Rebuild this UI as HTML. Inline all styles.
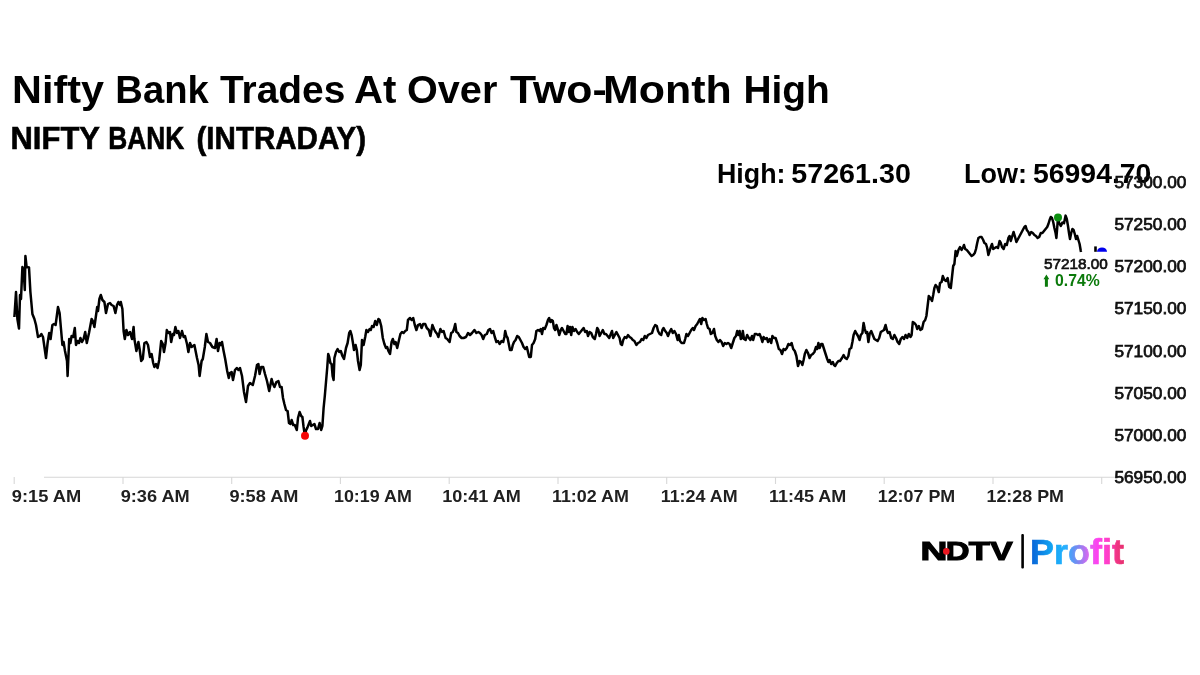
<!DOCTYPE html>
<html lang="en"><head><meta charset="utf-8"><title>Nifty Bank Trades At Over Two-Month High</title>
<style>
html,body{margin:0;padding:0;background:#fff;}
body{width:1200px;height:675px;overflow:hidden;font-family:"Liberation Sans",sans-serif;}
svg{display:block;}
text{font-family:"Liberation Sans",sans-serif;font-weight:bold;}
.n{font-weight:normal;}
</style></head><body>
<svg width="1200" height="675" viewBox="0 0 1200 675">
<defs><linearGradient id="pg" gradientUnits="userSpaceOnUse" x1="1032" y1="0" x2="1123" y2="0">
<stop offset="0" stop-color="#0a66d8"/><stop offset="0.2" stop-color="#10a0f0"/><stop offset="0.36" stop-color="#25b2ff"/><stop offset="0.5" stop-color="#7a88f0"/><stop offset="0.62" stop-color="#d868f0"/><stop offset="0.72" stop-color="#ff40f0"/><stop offset="0.85" stop-color="#ff3fc0"/><stop offset="0.93" stop-color="#f03585"/><stop offset="1" stop-color="#e83070"/>
</linearGradient></defs>
<rect width="1200" height="675" fill="#fff"/>
<path d="M44 477.3H1128" stroke="#d6d6d6" stroke-width="1.1" fill="none"/>
<path d="M14.2 477v7M123.0 477v7M231.7 477v7M340.4 477v7M449.2 477v7M558.0 477v7M666.7 477v7M775.5 477v7M884.2 477v7M993.0 477v7M1101.7 477v7" stroke="#d8d8d8" stroke-width="1.1" fill="none"/>
<path d="M14.4 317 L16 292 L17.4 319 L19 328.6 L20 295 L21 299 L22.4 267 L23.6 270 L24.8 290 L25.4 256 L26.6 267 L29 267.4 L30.4 292 L32.4 314 L34.4 319 L36 325 L38 337 L40 336 L41.4 334 L43 337 L46 358 L47.6 343 L49.2 333 L50.6 339 L52.4 325 L54 324 L55.6 325 L58 307 L59.6 313 L61 329 L62.4 345 L63.6 342 L65 351 L67 361 L67.6 376 L69.2 339 L70.4 343 L71.6 336 L73.2 337 L74.8 328 L76 345 L77.6 341 L79 343 L80.4 338 L82 342 L83.6 339 L85.2 332 L86.8 343 L89 333 L91.6 319 L92.8 321 L94.4 327 L97.2 307 L98 311 L99.4 299 L100.8 295 L102.4 300 L104.4 302 L106 313 L108 304 L110 303 L111.6 305 L113.6 306 L115.4 313 L117 305 L118.4 302 L120 305 L120.8 302 L122.4 309 L123.6 331 L124.8 339 L126.4 330 L128 335 L130 332 L132 339 L133.6 327 L134.4 339 L136.4 351 L138.4 342 L139.6 349 L141.2 361 L142.8 359 L144.4 343 L146.4 342 L148 345 L150 357 L151.6 354 L153.2 363 L154.4 367 L156 364 L157.6 368 L159.2 360 L161.2 341 L162.8 344 L164 352 L165.6 343 L166.8 330 L168.4 333 L170 332 L171.2 342 L172.8 334 L174 335 L175.4 327 L177 333 L178.4 331 L180 338 L182 331 L183.6 337 L185 336 L187 344 L188.4 352 L190 343 L191.6 347 L194.4 345 L197 358 L198.6 365 L199.6 376 L201.6 361 L202.8 359 L204.8 347 L206.4 334 L208 342 L210 343 L212.4 347 L215 348 L216.6 339 L218 351 L219.6 343 L220.8 345 L222 342 L223.6 351 L225.2 359 L227.2 371 L228.8 378 L230 373 L231.6 372 L233 380 L235 370 L236.8 368 L238.4 370 L240 368 L242 376 L244 392 L246 402 L248 386 L250 383 L252.8 385 L255 376 L257 365 L258.4 364 L259.6 374 L261.2 367 L263.2 367 L265 374 L267 381 L269.2 391 L271.6 379 L273 384 L274.4 387 L276.4 382 L278.4 381 L280 387 L281.6 387 L283 398 L284.4 404 L286 410 L287.6 411 L289 423 L290.4 424 L291.6 420 L293.2 425 L294.8 425 L296.8 430 L298 418 L299.6 412 L301.2 416 L302.4 417 L303.6 427 L304.4 432.4 L305 435.8 L306 430.4 L307.4 427.6 L308.8 424 L310 421 L311.2 426 L312.8 425 L314.4 424 L316 429 L318 429 L319.6 423 L321.2 430 L322.4 426 L323.6 408 L324.8 396 L326 382 L327.2 368 L328.2 354 L329.2 357 L330.4 363 L331.6 364 L332.6 376 L333.6 380 L334.4 358 L336 352 L337.6 349 L339.2 352 L340.8 351 L342.4 356 L344 359 L346 348 L347.6 343 L349.2 333 L350.4 331 L351.6 335 L352.8 342 L354 350 L355.6 345 L356.8 350 L358 361 L359.6 370 L360.8 365 L362 340 L363.6 345 L365.2 337 L366.4 330 L368 332 L369.6 329 L370.8 330 L372 326 L373.6 327 L375.2 321 L376.8 325 L378.4 319 L379.6 320 L381.2 326 L382.8 338 L384.4 344 L386 348 L387.2 347 L388.4 351 L390 354 L391.6 342 L392.8 339 L394.4 344 L395.6 342 L397.2 348 L399 340 L400.4 334 L402 332 L403.6 333 L405.2 331 L406.8 330 L408 320 L410 318 L411.6 320 L413.2 318 L414.8 325 L416.4 330 L418 325 L420 324 L421.6 328 L423.2 324 L425.2 324 L426.8 328 L428.8 330 L430.4 336 L432.4 325 L434 329 L435.6 332 L437.2 334 L438.4 337 L440.4 329 L442 332 L443.6 331 L445.6 338 L447.2 339 L449.6 342 L451.2 333 L452.8 332 L454 329 L455.2 324 L456.4 332 L458 333 L459.6 336 L461.6 338 L463.6 338 L466 337 L468 333 L470 335 L472 333 L474.4 330 L476.4 333 L478.4 332 L480 333 L481.6 335 L483.2 339 L484.8 335 L486.8 334 L488.4 330 L490 329 L491.6 333 L493.2 331 L494.8 337 L496.4 342 L498 341 L499.6 344 L501.6 341 L503.2 342 L504.4 337 L505.2 331 L506.4 336 L507.6 338 L508.8 344 L510 350 L511.6 350 L512.8 345 L514 342 L515.6 340 L517.2 336 L518.8 337 L520.4 340 L522 343 L523.6 347 L525.2 349 L526.8 347 L528 352 L529.2 357 L530.8 357 L532 345 L533.6 343 L535.2 339 L536.4 331 L538 330 L539.6 331 L540.8 329 L542 334 L543.2 328 L544.8 329 L546.4 325 L548 320 L549.2 318 L550.4 322 L551.6 320 L552.8 321 L554 328 L555.2 330 L556.4 325 L558 330 L559.2 335 L560.8 330 L562 328 L563.6 331 L565.2 334 L566.4 334 L567.6 326 L568.8 332 L570 327 L571.2 335 L572.4 327 L574 331 L575.6 329 L577.2 332 L578.8 334 L580.4 332 L582 330 L583.6 328 L585.2 332 L586.8 331 L588 336 L589.6 332 L591.2 333 L592.8 337 L594.8 339 L596 334 L597.2 328 L598.4 330 L599.6 336 L601.2 333 L602.8 330 L604.4 334 L606 334 L607.6 336 L609.2 338 L610.8 334 L612 331 L613.2 338 L614.8 335 L616.4 332 L618 335 L619.6 338 L620.8 344 L622 345 L623.2 340 L624.8 337 L626.4 338 L628 335 L629.6 337 L631.2 338 L632.8 340 L634.4 341 L636.4 345 L638 343 L640 342 L641.6 339 L643.2 340 L644.8 336 L646.4 338 L648 335 L650 334 L652 333 L653.6 328 L655.2 325 L656.8 326 L658 331 L659.6 334 L661.2 335 L662.4 330 L663.6 328 L665.2 331 L666.8 333 L668 336 L669.6 332 L671.2 329 L672.8 333 L674.4 331 L676 334 L677.6 340 L678.8 335 L680 341 L681.6 343 L684 343 L685.2 339 L686.4 334 L688 336 L689.6 333 L691.2 330 L692.8 328 L694 330 L695.6 326 L697.2 324 L698.8 321 L700 319 L701.2 324 L702.4 318 L704 320 L705.6 319 L706.8 324 L708 328 L709.6 329 L710.8 334 L712.4 333 L714 329 L715.2 336 L716.8 340 L718.4 342 L720 340 L721.6 342 L723.2 346 L724.8 343 L726.4 344 L728 343 L729.6 344 L731.2 348 L732.8 343 L734.4 338 L736 336 L737.2 331 L738.4 335 L739.6 331 L740.8 339 L742 338 L742.8 331 L744 339 L745.6 340 L747.2 335 L748.8 338 L750.4 340 L752 336 L753.2 340 L754.8 334 L756.4 334 L758 335 L759.6 334 L761.2 338 L762.4 342 L763.6 337 L765.2 339 L766.8 338 L768 342 L769.6 339 L771.2 343 L772.4 336 L774 338 L775.6 338 L777.2 343 L778.8 349 L780.4 350 L782 354 L783.6 349 L785.2 350 L786.8 348 L788.4 344 L790 345 L791.6 343 L793.2 349 L794.8 351 L796.4 356 L798 366 L799.6 361 L801.2 362 L802.4 365 L803.6 360 L804.8 354 L806.4 350 L808 353 L809.6 358 L811.2 355 L812.8 354 L814.4 352 L816 347 L817.2 349 L818.4 343 L819.6 348 L821.2 344 L822.4 344 L824 349 L825.6 354 L827.2 359 L828.4 362 L829.6 360 L831.2 364 L832.8 362 L834 365 L835.2 366 L836.8 363 L838.4 361 L840 361 L842 358 L843.6 355 L845.2 358 L846.8 359 L848.4 356 L849.6 349 L851.2 348 L852.4 342 L853.6 335 L855.2 331 L856.8 334 L858 336 L859.6 340 L860.8 335 L862.4 333 L863.6 323 L864.8 329 L866 333 L867.2 332 L868.4 342 L869.6 334 L871.2 331 L872.8 335 L874.4 339 L876 340 L877.6 341 L879.2 338 L880.8 332 L882.4 331 L884 330 L885.6 325 L886.8 330 L888 333 L889.6 332 L891.2 338 L892.8 339 L894.4 335 L896 338 L897.6 342 L899.2 344 L900.8 339 L902.4 337 L904 339 L905.6 335 L907.2 338 L908.8 334 L910.4 337 L911.6 335 L912.8 322 L914.4 323 L916 325 L917.2 329 L918.8 326 L920.4 330 L922 329 L923.6 322 L925.2 320 L926.4 316 L927.6 306 L928.8 296 L930.4 298 L932 301 L933.2 295 L934.4 288 L935.6 285 L937.2 287 L938.8 292 L940 283 L941.6 282 L942.8 276 L944.4 280 L946 281 L947.6 278 L949.2 287 L950.8 288 L952 277 L953.2 266 L954.4 264 L955.6 251 L956.8 256 L958.4 250 L960 247 L961.6 250 L963.2 247 L964 245 L965.2 249 L966.8 250 L968.4 252 L970 254 L971.6 256 L973.2 255 L974.8 253 L976 249 L977.2 243 L978.4 238 L980 237 L981.6 237 L983.2 240 L984.4 243 L986 244 L987.2 248 L988.4 255 L989.6 251 L990.8 247 L992 244 L993.2 249 L994.8 248 L996.4 247 L998 248 L999.6 241 L1000.8 243 L1002 247 L1003.6 249 L1005.2 244 L1006.8 245 L1008.4 238 L1009.6 236 L1010.8 241 L1012 237 L1013.6 232 L1014.8 236 L1016.4 242 L1018 239 L1019.6 236 L1021.2 233 L1022.8 230 L1024.4 227 L1025.6 226 L1026.8 230 L1028.4 232 L1029.6 235 L1031.2 232 L1032.8 233 L1034.4 235 L1036 236 L1037.6 238 L1039.2 237 L1040.8 233 L1042.4 233 L1044 231 L1045.6 229 L1047.2 227 L1048.4 224 L1049.6 220 L1050.8 217 L1052 218 L1053.2 222 L1054.4 228 L1055.6 233 L1056.4 238 L1057.2 228 L1058 217.6 L1059.2 223 L1060.8 226 L1062.4 222.6 L1064 223.2 L1065.6 215.6 L1066.8 219 L1068 226 L1069 233 L1070 239 L1071.2 233 L1072.4 229 L1073.6 230 L1074.8 234 L1076 239 L1077.2 236 L1078.4 240 L1079.6 244 L1080.8 251 L1081 252" fill="none" stroke="#000" stroke-width="2.5" stroke-linejoin="round" stroke-linecap="butt"/>
<circle cx="305" cy="435.8" r="4" fill="#f50505"/>
<circle cx="1058" cy="217.4" r="4" fill="#0c8f10"/>
<path d="M1096.9 251.8A5.2 5.2 0 0 1 1107.1 251.8Z" fill="#0000ee"/>
<path d="M1094.2 246.4h2.6v5.4h-2.6z" fill="#000"/>
<text y="103" font-size="39.2" fill="#000" ><tspan x="12.13" textLength="91.97" lengthAdjust="spacingAndGlyphs">Nifty</tspan> <tspan x="115.37" textLength="93.46" lengthAdjust="spacingAndGlyphs">Bank</tspan> <tspan x="220.00" textLength="125.35" lengthAdjust="spacingAndGlyphs">Trades</tspan> <tspan x="353.98" textLength="42.39" lengthAdjust="spacingAndGlyphs">At</tspan> <tspan x="406.98" textLength="90.35" lengthAdjust="spacingAndGlyphs">Over</tspan> <tspan x="510.00" textLength="96.64" lengthAdjust="spacingAndGlyphs">Two-</tspan><tspan x="603.01" textLength="128.74" lengthAdjust="spacingAndGlyphs">Month</tspan> <tspan x="743.42" textLength="86.42" lengthAdjust="spacingAndGlyphs">High</tspan></text>
<text y="149" font-size="30.7" fill="#000" stroke="#000" stroke-width="0.6"><tspan x="10.49" textLength="88.91" lengthAdjust="spacingAndGlyphs">NIFTY</tspan> <tspan x="108.28" textLength="76.03" lengthAdjust="spacingAndGlyphs">BANK</tspan> <tspan x="196.54" textLength="169.59" lengthAdjust="spacingAndGlyphs">(INTRADAY)</tspan></text>
<text y="182.6" font-size="26.8" fill="#000" ><tspan x="717.00" textLength="68.47" lengthAdjust="spacingAndGlyphs">High:</tspan> <tspan x="791.33" textLength="119.50" lengthAdjust="spacingAndGlyphs">57261.30</tspan> <tspan x="963.99" textLength="62.95" lengthAdjust="spacingAndGlyphs">Low:</tspan> <tspan x="1032.94" textLength="118.49" lengthAdjust="spacingAndGlyphs">56994.70</tspan></text>
<text y="501.6" font-size="17.3" fill="#202020" ><tspan x="11.74" textLength="69.48" lengthAdjust="spacingAndGlyphs">9:15 AM</tspan></text>
<text y="501.6" font-size="17.3" fill="#202020" ><tspan x="120.70" textLength="69.01" lengthAdjust="spacingAndGlyphs">9:36 AM</tspan></text>
<text y="501.6" font-size="17.3" fill="#202020" ><tspan x="229.45" textLength="69.01" lengthAdjust="spacingAndGlyphs">9:58 AM</tspan></text>
<text y="501.6" font-size="17.3" fill="#202020" ><tspan x="333.97" textLength="77.81" lengthAdjust="spacingAndGlyphs">10:19 AM</tspan></text>
<text y="501.6" font-size="17.3" fill="#202020" ><tspan x="442.21" textLength="78.58" lengthAdjust="spacingAndGlyphs">10:41 AM</tspan></text>
<text y="501.6" font-size="17.3" fill="#202020" ><tspan x="551.97" textLength="76.86" lengthAdjust="spacingAndGlyphs">11:02 AM</tspan></text>
<text y="501.6" font-size="17.3" fill="#202020" ><tspan x="660.72" textLength="76.86" lengthAdjust="spacingAndGlyphs">11:24 AM</tspan></text>
<text y="501.6" font-size="17.3" fill="#202020" ><tspan x="768.96" textLength="77.38" lengthAdjust="spacingAndGlyphs">11:45 AM</tspan></text>
<text y="501.6" font-size="17.3" fill="#202020" ><tspan x="877.72" textLength="77.50" lengthAdjust="spacingAndGlyphs">12:07 PM</tspan></text>
<text y="501.6" font-size="17.3" fill="#202020" ><tspan x="986.47" textLength="77.50" lengthAdjust="spacingAndGlyphs">12:28 PM</tspan></text>
<text class="n" y="188.0" font-size="16.8" fill="#111" stroke="#111" stroke-width="0.75"><tspan x="1114.40" textLength="72.00" lengthAdjust="spacingAndGlyphs">57300.00</tspan></text>
<text class="n" y="230.1" font-size="16.8" fill="#111" stroke="#111" stroke-width="0.75"><tspan x="1114.40" textLength="72.00" lengthAdjust="spacingAndGlyphs">57250.00</tspan></text>
<text class="n" y="272.3" font-size="16.8" fill="#111" stroke="#111" stroke-width="0.75"><tspan x="1114.40" textLength="72.00" lengthAdjust="spacingAndGlyphs">57200.00</tspan></text>
<text class="n" y="314.4" font-size="16.8" fill="#111" stroke="#111" stroke-width="0.75"><tspan x="1114.40" textLength="72.00" lengthAdjust="spacingAndGlyphs">57150.00</tspan></text>
<text class="n" y="356.6" font-size="16.8" fill="#111" stroke="#111" stroke-width="0.75"><tspan x="1114.40" textLength="72.00" lengthAdjust="spacingAndGlyphs">57100.00</tspan></text>
<text class="n" y="398.7" font-size="16.8" fill="#111" stroke="#111" stroke-width="0.75"><tspan x="1114.40" textLength="72.00" lengthAdjust="spacingAndGlyphs">57050.00</tspan></text>
<text class="n" y="440.8" font-size="16.8" fill="#111" stroke="#111" stroke-width="0.75"><tspan x="1114.40" textLength="72.00" lengthAdjust="spacingAndGlyphs">57000.00</tspan></text>
<text class="n" y="483.0" font-size="16.8" fill="#111" stroke="#111" stroke-width="0.75"><tspan x="1114.40" textLength="72.00" lengthAdjust="spacingAndGlyphs">56950.00</tspan></text>
<text class="n" y="269.1" font-size="15.0" fill="#111" stroke="#111" stroke-width="0.7"><tspan x="1044.00" textLength="63.79" lengthAdjust="spacingAndGlyphs">57218.00</tspan></text>
<text y="285.9" font-size="16.2" fill="#0b7a0b" ><tspan x="1055.03" textLength="44.65" lengthAdjust="spacingAndGlyphs">0.74%</tspan></text>
<text y="560.2" font-size="25.2" fill="#000" stroke="#000" stroke-width="1.1"><tspan x="920.52" textLength="26.85" lengthAdjust="spacingAndGlyphs">N</tspan><tspan x="945.69" textLength="23.77" lengthAdjust="spacingAndGlyphs">D</tspan><tspan x="968.80" textLength="21.07" lengthAdjust="spacingAndGlyphs">T</tspan><tspan x="990.30" textLength="22.45" lengthAdjust="spacingAndGlyphs">V</tspan></text>
<text y="564" font-size="35.6" fill="url(#pg)" stroke="url(#pg)" stroke-width="0.7"><tspan x="1029.98" textLength="93.92" lengthAdjust="spacingAndGlyphs">Profit</tspan></text>
<path d="M1046.4 274.6L1049.3 279.3H1047.9V286.8H1044.9V279.3H1043.5Z" fill="#0b7a0b"/>
<circle cx="946.3" cy="551.4" r="3.3" fill="#ec1620"/>
<rect x="1021.3" y="534" width="2.6" height="34.5" rx="1" fill="#000"/>
</svg></body></html>
